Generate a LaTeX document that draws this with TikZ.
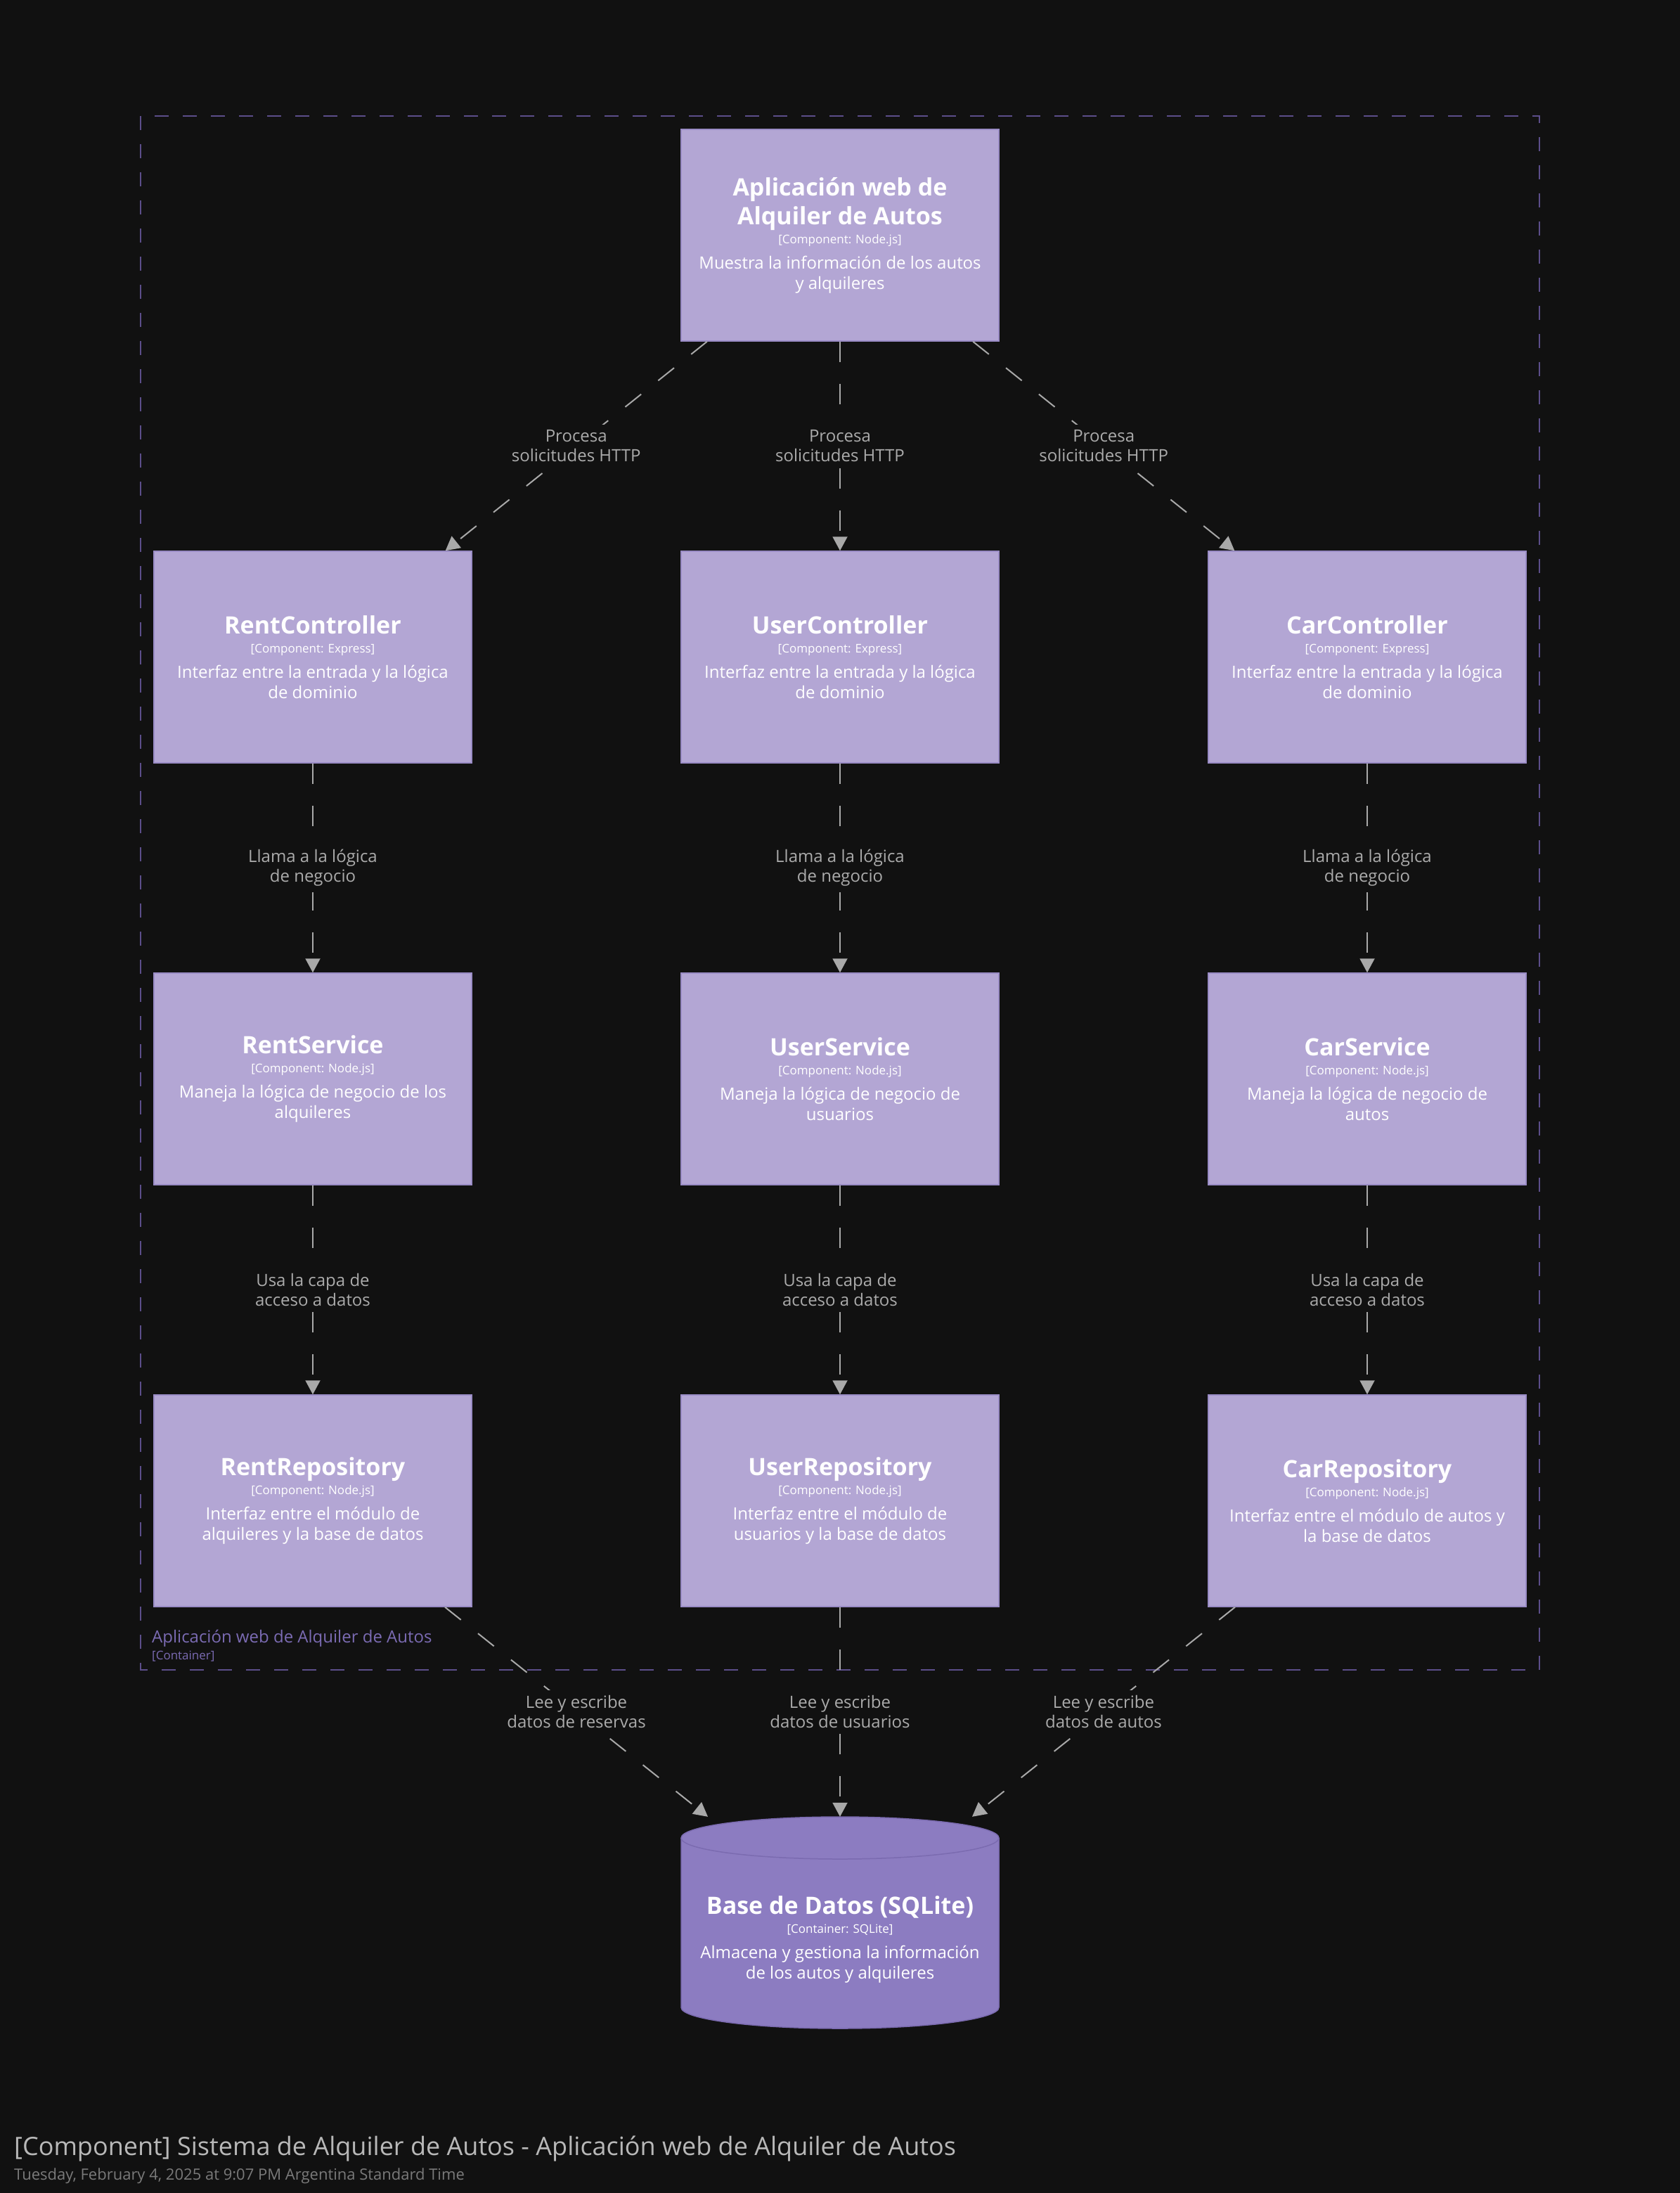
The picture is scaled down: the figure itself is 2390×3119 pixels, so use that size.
\documentclass[tikz,border=0pt]{standalone}
\usepackage{fontspec}
\setmainfont{Open Sans}
\usetikzlibrary{arrows.meta}
\definecolor{bg}{HTML}{111111}
\definecolor{boxfill}{HTML}{B3A6D4}
\definecolor{boxline}{HTML}{9A8CC6}
\definecolor{dbfill}{HTML}{8C7CC1}
\definecolor{dbline}{HTML}{7B6BB0}
\definecolor{relcol}{HTML}{A9A9A9}
\definecolor{lblcol}{HTML}{ABABAB}
\definecolor{bndcol}{HTML}{5C4E8A}
\definecolor{bndtxt}{HTML}{7B6BB3}
\definecolor{titlecol}{HTML}{B8B8B8}
\definecolor{subcol}{HTML}{7A7A7A}

\newcommand\compbody[3]{%
\begin{minipage}{444pt}\centering
\fontsize{34}{41}\selectfont\bfseries #1\par
\fontsize{17}{27}\selectfont\mdseries [#2]\par
\vspace{7pt}%
\fontsize{24}{29}\selectfont #3\par
\end{minipage}}

\tikzset{
  comp/.style={rectangle, fill=boxfill, draw=boxline, line width=1.5pt,
    minimum width=452pt, minimum height=301pt, inner sep=0pt, text=white},
  rel/.style={draw=relcol, line width=2pt, dash pattern=on 29pt off 31pt,
    -{Triangle[width=21pt,length=20pt]}},
  lbl/.style={fill=bg, text=lblcol, inner xsep=4pt, inner ysep=8pt, align=center,
    font=\fontsize{24}{28}\selectfont},
  bnd/.style={draw=bndcol, line width=2pt, dash pattern=on 20pt off 20pt},
}

\begin{document}
\begin{tikzpicture}[x=1pt,y=-1pt]
\fill[bg] (0,0) rectangle (2390,3119);
\useasboundingbox (0,0) rectangle (2390,3119);

% container boundary
\draw[bnd] (200,165) rectangle (2190,2375);
\node[anchor=base west, text=bndtxt, inner sep=0pt, font=\fontsize{24}{28}\selectfont] (bndlabel) at (216,2336) {Aplicación web de Alquiler de Autos};
\node[anchor=base west, text=bndtxt, inner sep=0pt, font=\fontsize{17}{20}\selectfont] (bndtype) at (216,2360) {[Container]};

% components
\node[comp] (web) at (1195,334.5) {\compbody{Aplicación web de\\Alquiler de Autos}{Component: Node.js}{Muestra la información de los autos\\y alquileres}};

\node[comp] (rentctl) at (445,934.5) {\compbody{RentController}{Component: Express}{Interfaz entre la entrada y la lógica\\de dominio}};
\node[comp] (userctl) at (1195,934.5) {\compbody{UserController}{Component: Express}{Interfaz entre la entrada y la lógica\\de dominio}};
\node[comp] (carctl) at (1945,934.5) {\compbody{CarController}{Component: Express}{Interfaz entre la entrada y la lógica\\de dominio}};

\node[comp] (rentsvc) at (445,1534.5) {\compbody{RentService}{Component: Node.js}{Maneja la lógica de negocio de los\\alquileres}};
\node[comp] (usersvc) at (1195,1534.5) {\compbody{UserService}{Component: Node.js}{Maneja la lógica de negocio de\\usuarios}};
\node[comp] (carsvc) at (1945,1534.5) {\compbody{CarService}{Component: Node.js}{Maneja la lógica de negocio de\\autos}};

\node[comp] (rentrepo) at (445,2134.5) {\compbody{RentRepository}{Component: Node.js}{Interfaz entre el módulo de\\alquileres y la base de datos}};
\node[comp] (userrepo) at (1195,2134.5) {\compbody{UserRepository}{Component: Node.js}{Interfaz entre el módulo de\\usuarios y la base de datos}};
\node[comp] (carrepo) at (1945,2134.5) {\compbody{CarRepository}{Component: Node.js}{Interfaz entre el módulo de autos y\\la base de datos}};

% database cylinder
\fill[dbfill] (969,2614) rectangle (1421,2855);
\fill[dbfill] (1195,2614) ellipse [x radius=226pt, y radius=30pt];
\fill[dbfill] (1195,2855) ellipse [x radius=226pt, y radius=30pt];
\draw[dbline, line width=1.5pt] (1195,2614) ellipse [x radius=226pt, y radius=30pt];
\draw[dbline, line width=1.5pt] (969,2614) -- (969,2855)
  .. controls (969,2871.6) and (1070.2,2885) .. (1195,2885)
  .. controls (1319.8,2885) and (1421,2871.6) .. (1421,2855) -- (1421,2614);
\node[rectangle, minimum width=452pt, minimum height=301pt, inner sep=0pt] (db) at (1195,2734.5) {};
\node[inner sep=0pt, text=white] (dbtext) at (1195,2758) {\compbody{Base de Datos (SQLite)}{Container: SQLite}{Almacena y gestiona la información\\de los autos y alquileres}};

% relationships
\draw[rel] (web) -- node[lbl] {Procesa\\solicitudes HTTP} (rentctl);
\draw[rel] (web) -- node[lbl] {Procesa\\solicitudes HTTP} (userctl);
\draw[rel] (web) -- node[lbl] {Procesa\\solicitudes HTTP} (carctl);

\draw[rel] (rentctl) -- node[lbl] {Llama a la lógica\\de negocio} (rentsvc);
\draw[rel] (userctl) -- node[lbl] {Llama a la lógica\\de negocio} (usersvc);
\draw[rel] (carctl) -- node[lbl] {Llama a la lógica\\de negocio} (carsvc);

\draw[rel] (rentsvc) -- node[lbl] {Usa la capa de\\acceso a datos} (rentrepo);
\draw[rel] (usersvc) -- node[lbl] {Usa la capa de\\acceso a datos} (userrepo);
\draw[rel] (carsvc) -- node[lbl] {Usa la capa de\\acceso a datos} (carrepo);

\draw[rel] (rentrepo) -- node[lbl] {Lee y escribe\\datos de reservas} (db);
\draw[rel] (userrepo) -- node[lbl] {Lee y escribe\\datos de usuarios} (db);
\draw[rel] (carrepo) -- node[lbl] {Lee y escribe\\datos de autos} (db);

% footer
\node[anchor=base west, inner sep=0pt, text=titlecol, font=\fontsize{36}{40}\selectfont] (title) at (20,3065) {[Component] Sistema de Alquiler de Autos - Aplicación web de Alquiler de Autos};
\node[anchor=base west, inner sep=0pt, text=subcol, font=\fontsize{22}{26}\selectfont] (subtitle) at (20,3100) {Tuesday, February 4, 2025 at 9:07 PM Argentina Standard Time};
\end{tikzpicture}
\end{document}
